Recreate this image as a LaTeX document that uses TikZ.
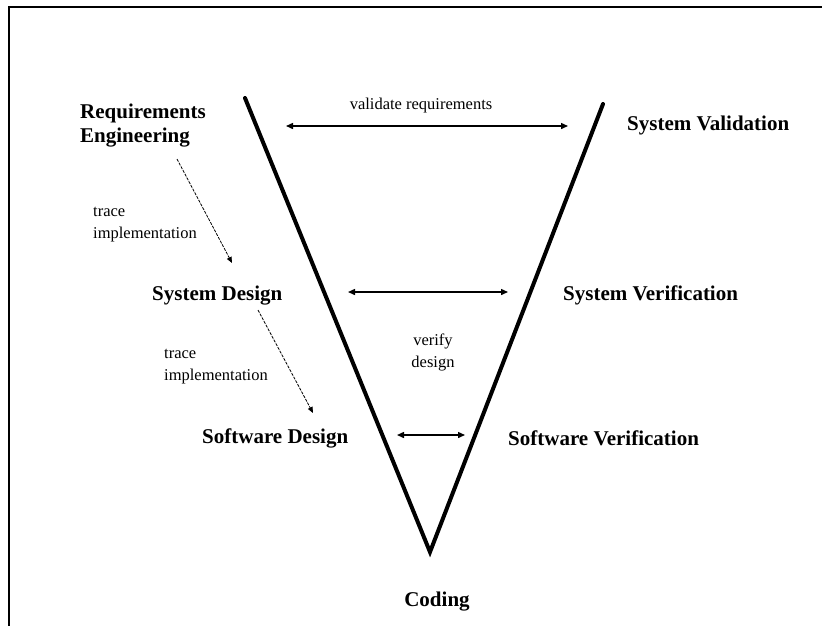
\documentclass[tikz,border=0pt]{standalone}
\usepackage{fontspec}
\setmainfont{Liberation Serif}
\usetikzlibrary{arrows.meta}

\begin{document}
\begin{tikzpicture}[x=1pt,y=1pt,
  phase/.style={font=\fontsize{21}{24}\selectfont\bfseries, inner sep=0pt, align=left},
  note/.style={font=\fontsize{16.5}{22}\selectfont, inner sep=0pt},
  vline/.style={line width=4pt, line join=miter, line cap=round},
  check/.style={line width=1.4pt, {Triangle[length=7pt,width=6pt]}-{Triangle[length=7pt,width=6pt]}},
  tracearrow/.style={line width=0.8pt, dash pattern=on 3pt off 1.2pt, -{Triangle[length=6pt,width=5pt]}}
]
\useasboundingbox (0,0) rectangle (822,-625);

% open frame: top and left edges only
\draw[line width=2pt] (840,-6.7) -- (9.3,-6.7) -- (9.3,-640);

% the V
\coordinate (vtl) at (245,-98);
\coordinate (vbot) at (430,-552);
\coordinate (vtr) at (603,-104);
\draw[vline] (vtl) -- (vbot) -- (vtr);

% development side
\node[phase, anchor=north west] (req) at (80,-104) {Requirements\\Engineering};
\node[phase, anchor=base west] (sysd) at (152,-300) {System Design};
\node[phase, anchor=base west] (swd) at (202,-443) {Software Design};

% test side
\node[phase, anchor=base west] (sysval) at (627,-130) {System Validation};
\node[phase, anchor=base west] (sysver) at (563,-300) {System Verification};
\node[phase, anchor=base west] (swver) at (508,-445) {Software Verification};

\node[phase, anchor=base] (coding) at (437,-606) {Coding};

% horizontal checks
\coordinate (valL) at (286,-126);
\coordinate (valR) at (568,-126);
\draw[check] (valL) -- (valR);
\node[note, anchor=base] (valtxt) at (421,-109) {validate requirements};

\coordinate (sysL) at (348,-292);
\coordinate (sysR) at (508,-292);
\draw[check] (sysL) -- (sysR);

\coordinate (swL) at (397,-435);
\coordinate (swR) at (465,-435);
\draw[check] (swL) -- (swR);

\node[note, align=center] (vertxt) at (433,-352) {verify\\design};

% trace arrows
\coordinate (t1a) at (177,-159);
\coordinate (t1b) at (232,-263);
\draw[tracearrow] (t1a) -- (t1b);
\node[note, align=left, anchor=west] (tr1) at (93,-225) {trace\\implementation};

\coordinate (t2a) at (258,-310);
\coordinate (t2b) at (313,-413);
\draw[tracearrow] (t2a) -- (t2b);
\node[note, align=left, anchor=west] (tr2) at (164,-367) {trace\\implementation};
\end{tikzpicture}
\end{document}
